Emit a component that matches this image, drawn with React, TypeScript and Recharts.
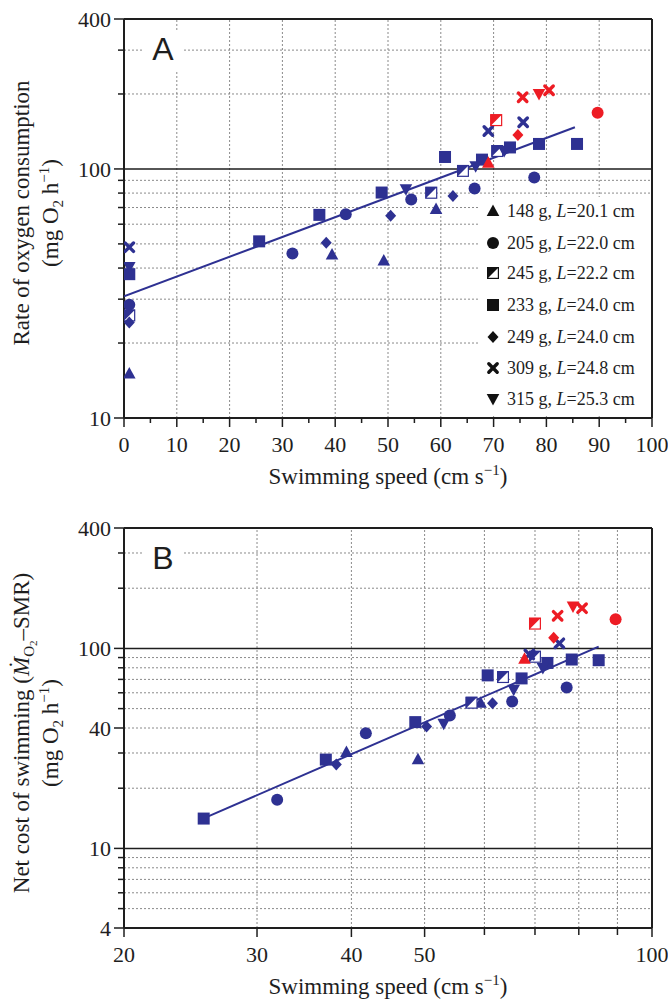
import React from "react";
import { ScatterChart, Scatter, XAxis, YAxis, ReferenceLine } from "recharts";

const BLUE = "#2e3192";
const RED = "#ed1c24";
const GRID = "#8a8a8a";
const INK = "#1e1e1e";
const SERIF = "Liberation Serif, Times New Roman, serif";
const SANS = "Liberation Sans, Arial, sans-serif";

type Pt = [number, number];
type Kind = "tri" | "cir" | "half" | "sq" | "dia" | "cross" | "tdown";

// legend
const kinds: Kind[] = ["tri", "cir", "half", "sq", "dia", "cross", "tdown"];
const masses = ["148", "205", "245", "233", "249", "309", "315"];
const lengths = ["20.1", "22.0", "22.2", "24.0", "24.0", "24.8", "25.3"];

// panel A: speed (cm/s), rate of O2 consumption (mg O2/h)
const triA: Pt[] = [[1, 15.1], [39.4, 45.3], [49.2, 42.9], [59.1, 69.1]];
const triARed: Pt[] = [[69.0, 106]];
const cirA: Pt[] = [[1, 28.5], [31.9, 45.8], [42.0, 65.8], [54.4, 75.4], [66.4, 83.5], [77.7, 92.3]];
const cirARed: Pt[] = [[89.7, 168]];
const halfA: Pt[] = [[1, 25.8], [58.2, 80.2], [64.2, 98.2], [70.7, 118]];
const halfARed: Pt[] = [[70.5, 157]];
const sqA: Pt[] = [[1, 37.8], [25.6, 51.2], [37.0, 65.4], [48.8, 80.4], [60.8, 111.7], [67.8, 109], [73.1, 122], [78.6, 126], [85.8, 126]];
const sqARed: Pt[] = [];
const diaA: Pt[] = [[1, 24.2], [38.3, 50.5], [50.5, 64.8], [62.3, 77.8]];
const diaARed: Pt[] = [[74.6, 137]];
const crossA: Pt[] = [[1, 48.5], [69.0, 142], [75.6, 154]];
const crossARed: Pt[] = [[75.5, 194], [80.5, 207]];
const tdownA: Pt[] = [[1, 40.4], [53.4, 82.9], [66.6, 102.5], [72.0, 118]];
const tdownARed: Pt[] = [[78.6, 200]];
const fitA: Pt[] = [[0, 30.8], [85.4, 147]];

// panel B: speed (cm/s), net cost of swimming (mg O2/h)
const triB: Pt[] = [[39.4, 30.3], [49.0, 27.9], [59.3, 53.5]];
const triBRed: Pt[] = [[67.8, 88.7]];
const cirB: Pt[] = [[31.9, 17.5], [41.8, 37.7], [54.0, 46.2], [65.3, 54.2], [77.1, 63.8]];
const cirBRed: Pt[] = [[89.5, 140]];
const halfB: Pt[] = [[57.7, 53.5], [63.5, 71.9], [70.0, 90.8]];
const halfBRed: Pt[] = [[70.0, 133]];
const sqB: Pt[] = [[25.5, 14.1], [37.0, 27.8], [48.6, 42.8], [60.6, 73.3], [67.2, 70.8], [72.7, 84.6], [78.3, 88.0], [85.0, 87.3]];
const sqBRed: Pt[] = [];
const diaB: Pt[] = [[38.2, 26.3], [50.3, 40.7], [61.5, 53.2]];
const diaBRed: Pt[] = [[74.1, 113.2]];
const crossB: Pt[] = [[68.8, 93.3], [75.4, 106]];
const crossBRed: Pt[] = [[75.0, 145.6], [80.8, 159]];
const tdownB: Pt[] = [[53.0, 42.0], [65.6, 62.1], [71.7, 79.9]];
const tdownBRed: Pt[] = [[78.6, 161.8]];
const fitB: Pt[] = [[25.9, 14.5], [85, 102]];

// axes
const xTicksA = [0, 5, 10, 15, 20, 25, 30, 35, 40, 45, 50, 55, 60, 65, 70, 75, 80, 85, 90, 95, 100];
const xGridA = [10, 20, 30, 40, 50, 60, 70, 80, 90];
const yTicksA = [10, 20, 30, 40, 50, 60, 70, 80, 90, 100, 200, 300, 400];
const yLabelsA = [10, 100, 400];
const yGridA = [20, 30, 40, 50, 60, 70, 80, 90, 200, 300];
const ySolidA = [100];

const xTicksB = [20, 30, 40, 50, 60, 70, 80, 90, 100];
const xLabelsB = [20, 30, 40, 50, 100];
const xGridB = [30, 40, 50, 60, 70, 80, 90];
const yTicksB = [4, 5, 6, 7, 8, 9, 10, 20, 30, 40, 50, 60, 70, 80, 90, 100, 200, 300, 400];
const yLabelsB = [4, 10, 40, 100, 400];
const yGridB = [5, 6, 7, 8, 9, 20, 30, 40, 50, 60, 70, 80, 90, 200, 300];
const ySolidB = [10, 100];

const seriesA: [Kind, Pt[], Pt[]][] = [
  ["tri", triA, triARed],
  ["cir", cirA, cirARed],
  ["half", halfA, halfARed],
  ["sq", sqA, sqARed],
  ["dia", diaA, diaARed],
  ["cross", crossA, crossARed],
  ["tdown", tdownA, tdownARed],
];
const seriesB: [Kind, Pt[], Pt[]][] = [
  ["tri", triB, triBRed],
  ["cir", cirB, cirBRed],
  ["half", halfB, halfBRed],
  ["sq", sqB, sqBRed],
  ["dia", diaB, diaBRed],
  ["cross", crossB, crossBRed],
  ["tdown", tdownB, tdownBRed],
];

const toRows = (pts: Pt[]) => pts.map(([x, y]) => ({ x, y }));

function Marker({ kind, cx, cy, color }: { kind: Kind; cx: number; cy: number; color: string }) {
  if (cx == null || cy == null) return null;
  switch (kind) {
    case "tri":
      return <polygon points={`${cx},${cy - 6.5} ${cx + 6.3},${cy + 5} ${cx - 6.3},${cy + 5}`} fill={color} />;
    case "tdown":
      return <polygon points={`${cx},${cy + 6.5} ${cx + 6.3},${cy - 5} ${cx - 6.3},${cy - 5}`} fill={color} />;
    case "cir":
      return <circle cx={cx} cy={cy} r={6} fill={color} />;
    case "sq":
      return <rect x={cx - 6} y={cy - 6} width={12} height={12} fill={color} />;
    case "half":
      return (
        <g>
          <rect x={cx - 5.4} y={cy - 5.4} width={10.8} height={10.8} fill="#fff" stroke={color} strokeWidth={1.2} />
          <polygon points={`${cx - 6},${cy - 6} ${cx + 6},${cy - 6} ${cx - 6},${cy + 6}`} fill={color} />
        </g>
      );
    case "dia":
      return <polygon points={`${cx},${cy - 6} ${cx + 5.5},${cy} ${cx},${cy + 6} ${cx - 5.5},${cy}`} fill={color} />;
    case "cross":
      return (
        <g stroke={color} strokeWidth={3.4} strokeLinecap="round">
          <line x1={cx - 4.2} y1={cy - 4.2} x2={cx + 4.2} y2={cy + 4.2} />
          <line x1={cx - 4.2} y1={cy + 4.2} x2={cx + 4.2} y2={cy - 4.2} />
        </g>
      );
  }
  return null;
}

const tickText = { fontSize: 22, fontFamily: SERIF, fill: INK };

function makeYTick(labels: number[]) {
  return (p: any) => {
    const v = p.payload.value;
    const major = labels.includes(v);
    return (
      <g>
        <line x1={p.x - (major ? 10 : 6)} x2={p.x} y1={p.y} y2={p.y} stroke={INK} strokeWidth={1.5} />
        {major ? (
          <text x={p.x - 13} y={p.y} dy="0.35em" textAnchor="end" style={tickText}>
            {v}
          </text>
        ) : null}
      </g>
    );
  };
}

function makeXTick(isLabel: (v: number) => boolean, minorLen: number) {
  return (p: any) => {
    const v = p.payload.value;
    const major = isLabel(v);
    return (
      <g>
        <line x1={p.x} x2={p.x} y1={p.y} y2={p.y + (major ? 9 : minorLen)} stroke={INK} strokeWidth={1.5} />
        {major ? (
          <text x={p.x} y={p.y + 26} dy="0.35em" textAnchor="middle" style={tickText}>
            {v}
          </text>
        ) : null}
      </g>
    );
  };
}

function renderSeries(series: [Kind, Pt[], Pt[]][], fit: Pt[], id: string) {
  const out: React.ReactNode[] = [];
  out.push(
    <Scatter
      key={`${id}-fit`}
      data={toRows(fit)}
      line={{ stroke: BLUE, strokeWidth: 2 }}
      shape={() => <g />}
      isAnimationActive={false}
    />
  );
  series.forEach(([kind, blue]) => {
    out.push(
      <Scatter
        key={`${id}-${kind}`}
        data={toRows(blue)}
        shape={(p: any) => <Marker kind={kind} cx={p.cx} cy={p.cy} color={BLUE} />}
        isAnimationActive={false}
      />
    );
  });
  series.forEach(([kind, , red]) => {
    if (red.length === 0) return;
    out.push(
      <Scatter
        key={`${id}-${kind}-red`}
        data={toRows(red)}
        shape={(p: any) => <Marker kind={kind} cx={p.cx} cy={p.cy} color={RED} />}
        isAnimationActive={false}
      />
    );
  });
  return out;
}

const gridProps = { stroke: GRID, strokeWidth: 1, strokeDasharray: "2 2" };
const solidProps = { stroke: INK, strokeWidth: 1.5 };
const frameProps = { stroke: INK, strokeWidth: 2 };

function PanelA() {
  return (
    <ScatterChart width={668} height={480} margin={{ top: 19, right: 16, bottom: 22, left: 64 }}>
      <XAxis
        type="number"
        dataKey="x"
        domain={[0, 100]}
        ticks={xTicksA}
        interval={0}
        tickSize={0}
        tickMargin={0}
        tickLine={false}
        tick={makeXTick((v) => v % 10 === 0, 5)}
        axisLine={{ stroke: INK, strokeWidth: 2 }}
        height={40}
        allowDataOverflow
      />
      <YAxis
        type="number"
        dataKey="y"
        scale="log"
        domain={[10, 400]}
        ticks={yTicksA}
        interval={0}
        tickSize={0}
        tickMargin={0}
        tickLine={false}
        tick={makeYTick(yLabelsA)}
        axisLine={{ stroke: INK, strokeWidth: 2 }}
        width={60}
        allowDataOverflow
      />
      {xGridA.map((v) => <ReferenceLine key={`gx${v}`} x={v} {...gridProps} />)}
      {yGridA.map((v) => <ReferenceLine key={`gy${v}`} y={v} {...gridProps} />)}
      {ySolidA.map((v) => <ReferenceLine key={`sy${v}`} y={v} {...solidProps} />)}
      <ReferenceLine y={400} {...frameProps} />
      <ReferenceLine x={100} {...frameProps} />
      {renderSeries(seriesA, fitA, "a")}
    </ScatterChart>
  );
}

function PanelB() {
  return (
    <ScatterChart width={668} height={499} margin={{ top: 28, right: 16, bottom: 31, left: 64 }}>
      <XAxis
        type="number"
        dataKey="x"
        scale="log"
        domain={[20, 100]}
        ticks={xTicksB}
        interval={0}
        tickSize={0}
        tickMargin={0}
        tickLine={false}
        tick={makeXTick((v) => xLabelsB.includes(v), 7)}
        axisLine={{ stroke: INK, strokeWidth: 2 }}
        height={40}
        allowDataOverflow
      />
      <YAxis
        type="number"
        dataKey="y"
        scale="log"
        domain={[4, 400]}
        ticks={yTicksB}
        interval={0}
        tickSize={0}
        tickMargin={0}
        tickLine={false}
        tick={makeYTick(yLabelsB)}
        axisLine={{ stroke: INK, strokeWidth: 2 }}
        width={60}
        allowDataOverflow
      />
      {xGridB.map((v) => <ReferenceLine key={`gx${v}`} x={v} {...gridProps} />)}
      {yGridB.map((v) => <ReferenceLine key={`gy${v}`} y={v} {...gridProps} />)}
      {ySolidB.map((v) => <ReferenceLine key={`sy${v}`} y={v} {...solidProps} />)}
      <ReferenceLine y={400} {...frameProps} />
      <ReferenceLine x={100} {...frameProps} />
      {renderSeries(seriesB, fitB, "b")}
    </ScatterChart>
  );
}

const titleText = { fontSize: 23, fontFamily: SERIF, fill: INK };

function Overlay() {
  const legendY = [211, 243, 273, 305, 337, 368, 399];
  return (
    <svg width={668} height={999} style={{ position: "absolute", left: 0, top: 0, pointerEvents: "none" }}>
      {/* panel letters */}
      <rect x={144} y={32} width={38} height={38} fill="#fff" />
      <text x={163} y={60} textAnchor="middle" style={{ fontSize: 32, fontFamily: SANS, fill: INK }}>A</text>
      <rect x={144} y={540} width={38} height={38} fill="#fff" />
      <text x={163} y={569} textAnchor="middle" style={{ fontSize: 32, fontFamily: SANS, fill: INK }}>B</text>

      {/* legend */}
      <rect x={480} y={197} width={170} height={219} fill="#fff" />
      {kinds.map((k, i) => (
        <g key={k}>
          <Marker kind={k} cx={493} cy={legendY[i]} color="#111" />
          <text x={507} y={legendY[i]} dy="0.35em" style={{ fontSize: 18, fontFamily: SERIF, fill: INK }}>
            {masses[i]} g, <tspan fontStyle="italic">L</tspan>={lengths[i]} cm
          </text>
        </g>
      ))}

      {/* x titles */}
      <text x={388} y={476} textAnchor="middle" dy="0.35em" style={titleText}>
        Swimming speed (cm s<tspan dy={-9} fontSize={15}>−1</tspan>
        <tspan dy={9}>)</tspan>
      </text>
      <text x={388} y={986} textAnchor="middle" dy="0.35em" style={titleText}>
        Swimming speed (cm s<tspan dy={-9} fontSize={15}>−1</tspan>
        <tspan dy={9}>)</tspan>
      </text>

      {/* y titles A */}
      <text transform="translate(29,213) rotate(-90)" textAnchor="middle" style={titleText}>
        Rate of oxygen consumption
      </text>
      <text transform="translate(58,213) rotate(-90)" textAnchor="middle" style={titleText}>
        (mg O<tspan dy={5} fontSize={15}>2</tspan>
        <tspan dy={-5}> h</tspan>
        <tspan dy={-9} fontSize={15}>−1</tspan>
        <tspan dy={9}>)</tspan>
      </text>

      {/* y titles B */}
      <text transform="translate(29,733) rotate(-90)" textAnchor="middle" style={titleText}>
        Net cost of swimming (<tspan fontStyle="italic">Ṁ</tspan>
        <tspan dy={5} fontSize={15}>O</tspan>
        <tspan dy={3} fontSize={11}>2</tspan>
        <tspan dy={-8}>–SMR)</tspan>
      </text>
      <text transform="translate(58,733) rotate(-90)" textAnchor="middle" style={titleText}>
        (mg O<tspan dy={5} fontSize={15}>2</tspan>
        <tspan dy={-5}> h</tspan>
        <tspan dy={-9} fontSize={15}>−1</tspan>
        <tspan dy={9}>)</tspan>
      </text>
    </svg>
  );
}

export default function App() {
  return (
    <div style={{ position: "absolute", left: 0, top: 0, width: 668, height: 999, background: "#fff", fontFamily: SERIF }}>
      <div style={{ position: "absolute", left: 0, top: 0 }}>
        <PanelA />
      </div>
      <div style={{ position: "absolute", left: 0, top: 500 }}>
        <PanelB />
      </div>
      <Overlay />
    </div>
  );
}
